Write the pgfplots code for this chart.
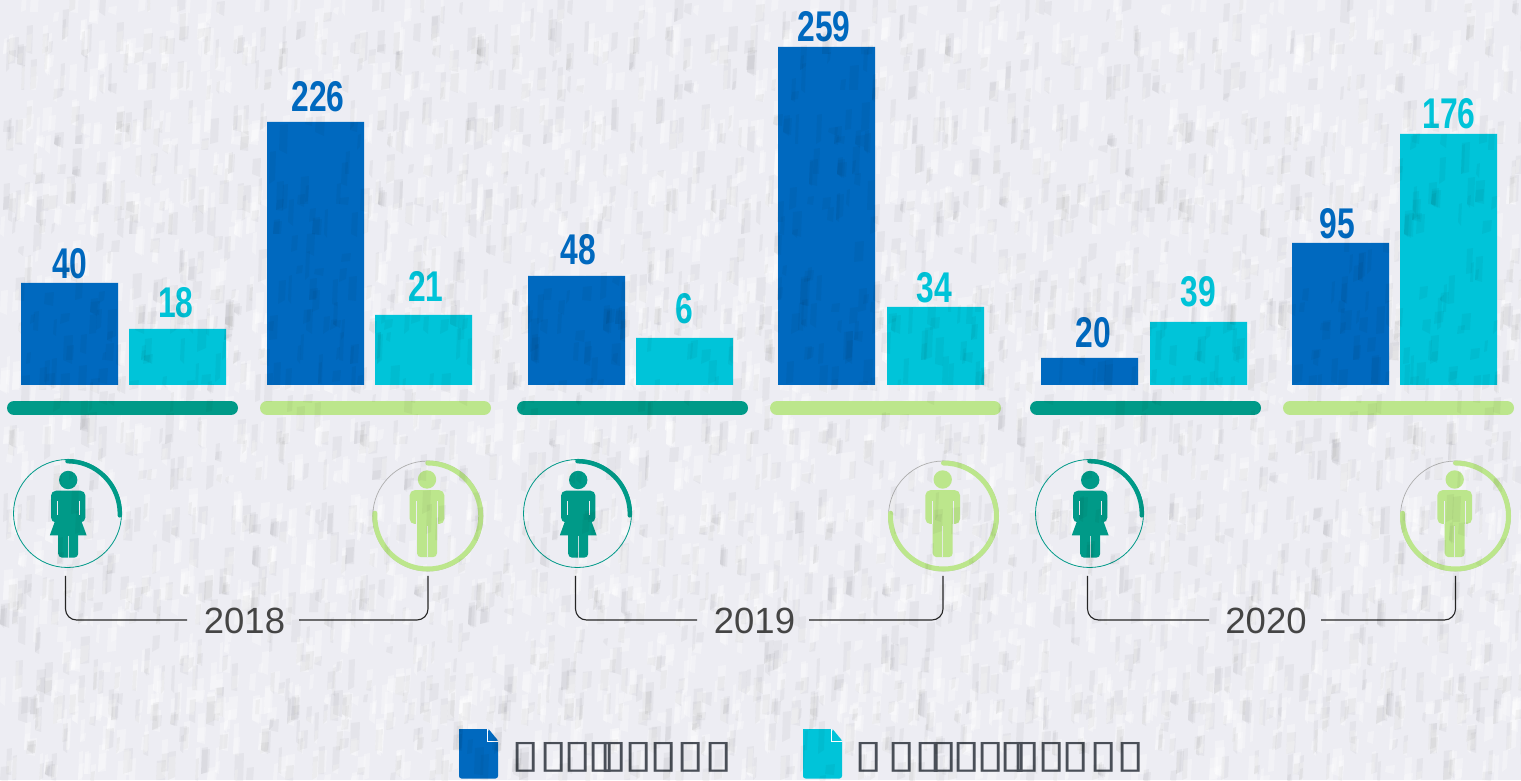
\documentclass[border=0pt]{standalone}
\usepackage{pgfplots}
\pgfplotsset{compat=1.18}
\usepackage{pgfplotstable}
\usepackage{fontspec}
\setmainfont{Liberation Sans}
\newfontfamily\numfont[FakeStretch=0.74]{Liberation Sans Bold}
\newfontfamily\tofufont[FakeStretch=1.32]{DejaVu Sans}
\definecolor{paper}{HTML}{EDEDF3}
\definecolor{blueb}{HTML}{0069BF}
\definecolor{cyanb}{HTML}{00C4D9}
\definecolor{teal2}{HTML}{009A88}
\definecolor{lgreen}{HTML}{BCE68C}
\definecolor{ink}{HTML}{454545}
\definecolor{tofu}{HTML}{4A4F58}

% bar heights as drawn in the picture (the picture's bars are not to scale) and their labels
\pgfplotstableread{
x      h
69.5   102
315.5  263
576.5  109
826.5  338
1089.5 27
1340.5 142
}\bluebars
\pgfplotstableread{
x      h
177.5  56
423.5  70
684.5  47
935.5  78
1198.5 63
1448.5 251
}\cyanbars
\pgfplotstableread{
x     y   label
70    121 40
318   288 226
578   135 48
824   358 259
1093  52  20
1337  161 95
}\bluelabels
\pgfplotstableread{
x     y   label
176   82  18
426   99  21
684   76  6
934   97  34
1198  93  39
1449  271 176
}\cyanlabels

\newcommand\woman[2]{%
 \begin{scope}[x=1pt,y=1pt,shift={(#1pt,{(780-#2)*1pt})}]
  \draw[teal2,line width=.8pt] (0,0) circle[radius=54];
  \draw[teal2,line width=4.5pt,line cap=round] (0,52.3) arc[start angle=90,end angle=-2,radius=52.3];
  \begin{scope}[xshift=.7pt]
   \fill[teal2] (0,33.5) circle[radius=9.2];
   \fill[teal2,rounded corners=5pt] (-17.2,22.8) rectangle (17.2,-9);
   \fill[teal2] (-11.5,-3) -- (11.5,-3) -- (18.4,-21.8) -- (-18.4,-21.8) -- cycle;
   \fill[teal2,rounded corners=4pt] (-10,-15) rectangle (10,-44.2);
   \draw[paper,line width=.8pt] (-10.9,12.5) -- (-10.9,-2);
   \draw[paper,line width=.8pt] (10.9,12.5) -- (10.9,-2);
   \draw[paper,line width=.7pt,opacity=.8] (0,-22) -- (0,-44.2);
  \end{scope}
 \end{scope}}

\newcommand\man[2]{%
 \begin{scope}[x=1pt,y=1pt,shift={(#1pt,{(780-#2)*1pt})}]
  \draw[black!32,line width=.7pt] (0,0) circle[radius=55];
  \draw[lgreen,line width=5pt,line cap=round] (0,53) arc[start angle=90,end angle=-183,radius=53];
  \begin{scope}[xshift=-.8pt]
   \fill[lgreen] (0,36.5) circle[radius=9.2];
   \fill[lgreen,rounded corners=5pt] (-17.3,25.8) rectangle (17.3,-8);
   \fill[lgreen,rounded corners=4pt] (-10,0) rectangle (10,-41.2);
   \draw[paper,line width=.8pt] (-10.5,15) -- (-10.5,-8.5);
   \draw[paper,line width=.8pt] (10.5,15) -- (10.5,-8.5);
   \draw[paper,line width=.7pt,opacity=.8] (0,-10) -- (0,-41.2);
  \end{scope}
 \end{scope}}

\newcommand\docicon[2]{% left px, colour
 \begin{scope}[x=1pt,y=1pt,shift={(#1pt,0pt)}]
  \fill[#2,rounded corners=2.5pt] (0,51) -- (0,1.5) -- (39,1.5) [sharp corners] -- (39,38) -- (28,51) -- cycle;
  \fill[#2] (29.5,51) -- (39,39.5) -- (29.5,39.5) -- cycle;
  \draw[white,line width=.8pt] (28.6,51) -- (28.6,38.8) -- (39,38.8);
 \end{scope}}

\newcommand\B[1]{\makebox[0pt][l]{▯}\kern#1pt\relax}

% grain helpers (decoration only): deterministic scatter
\newcommand\grainvars[1]{%
  \edef\px{\the\numexpr 13*#1*#1+617*#1 - 1521*((13*#1*#1+617*#1-760)/1521)\relax}%
  \edef\py{\the\numexpr 7*#1*#1+311*#1 - 780*((7*#1*#1+311*#1-390)/780)\relax}%
  \edef\sl{\the\numexpr #1*37 - 9*((#1*37-4)/9) - 4\relax}%
  \edef\wd{\the\numexpr 3 + #1*29 - 7*((#1*29-3)/7)\relax}%
  \edef\ht{\the\numexpr 8 + #1*53 - 23*((#1*53-11)/23)\relax}%
}

\begin{document}
\begin{tikzpicture}[x=1pt,y=1pt]
\useasboundingbox (0,0) rectangle (1521,780);
\fill[paper] (0,0) rectangle (1521,780);
% paper grain, light part
\begin{scope}
\clip (0,0) rectangle (1521,780);
\foreach \i in {1,...,4200}{%
  \grainvars{\i}%
  \fill[white,opacity=.3] (\px,\py) -- ++(\wd,\sl) -- ++(1,\ht) -- ++(-\wd,-1) -- cycle;
}
\end{scope}

\begin{axis}[
  at={(0pt,0pt)},anchor=south west,
  width=1521pt,height=780pt,scale only axis,
  xmin=0,xmax=1521,ymin=-395,ymax=385,
  hide axis,clip=false,
  nodes near coords align=center,
]
\addplot[ybar,bar width=97pt,bar shift=0pt,fill=blueb,draw=none] table[x=x,y=h] {\bluebars};
\addplot[ybar,bar width=97pt,bar shift=0pt,fill=cyanb,draw=none] table[x=x,y=h] {\cyanbars};
\addplot[draw=none,point meta=explicit symbolic,nodes near coords,
  every node near coord/.append style={anchor=center,inner sep=0pt,text=blueb,font=\fontsize{43}{43}\selectfont\numfont}]
  table[x=x,y=y,meta=label] {\bluelabels};
\addplot[draw=none,point meta=explicit symbolic,nodes near coords,
  every node near coord/.append style={anchor=center,inner sep=0pt,text=cyanb,font=\fontsize{43}{43}\selectfont\numfont}]
  table[x=x,y=y,meta=label] {\cyanlabels};
% coloured rules under the bars
\addplot[teal2,line width=14pt,line cap=round] coordinates {(14,-23) (231,-23)};
\addplot[lgreen,line width=14pt,line cap=round] coordinates {(267,-23) (484,-23)};
\addplot[teal2,line width=14pt,line cap=round] coordinates {(524,-23) (741,-23)};
\addplot[lgreen,line width=14pt,line cap=round] coordinates {(777,-23) (994,-23)};
\addplot[teal2,line width=14pt,line cap=round] coordinates {(1037,-23) (1254,-23)};
\addplot[lgreen,line width=14pt,line cap=round] coordinates {(1290,-23) (1507,-23)};
% year connectors
\addplot[black!85,line width=1.1pt,rounded corners=11pt] coordinates {(65.5,-191) (65.5,-235) (187,-235)};
\addplot[black!85,line width=1.1pt,rounded corners=11pt] coordinates {(299,-235) (428,-235) (428,-191)};
\addplot[black!85,line width=1.1pt,rounded corners=11pt] coordinates {(575.5,-191) (575.5,-235) (697,-235)};
\addplot[black!85,line width=1.1pt,rounded corners=11pt] coordinates {(809,-235) (943,-235) (943,-191)};
\addplot[black!85,line width=1.1pt,rounded corners=11pt] coordinates {(1087.5,-191) (1087.5,-235) (1209,-235)};
\addplot[black!85,line width=1.1pt,rounded corners=11pt] coordinates {(1321,-235) (1455.5,-235) (1455.5,-191)};
\end{axis}

\woman{67.5}{513.5}\man{427.8}{516}
\woman{577.5}{513.5}\man{943.5}{516}
\woman{1089.5}{513.5}\man{1455.5}{516}

\node[text=ink,inner sep=0pt,font=\fontsize{36.5}{36.5}\selectfont] at (244.5,159.5) {2018};
\node[text=ink,inner sep=0pt,font=\fontsize{36.5}{36.5}\selectfont] at (754.5,159.5) {2019};
\node[text=ink,inner sep=0pt,font=\fontsize{36.5}{36.5}\selectfont] at (1266,159.5) {2020};

\docicon{459}{blueb}
\docicon{803}{cyanb}
\node[anchor=base west,inner sep=0pt,text=tofu,font=\fontsize{39}{39}\selectfont\tofufont] at (511,13)
 {\B{28}\B{24}\B{24}\B{12}\B{25}\B{25}\B{27}\B{28}\B{0}};
\node[anchor=base west,inner sep=0pt,text=tofu,font=\fontsize{39}{39}\selectfont\tofufont] at (854,13)
 {\B{33}\B{27}\B{15}\B{23}\B{24}\B{23}\B{13}\B{25}\B{24}\B{28}\B{27}\B{0}};

% paper grain, dark part, laid over everything as in the reference
\begin{scope}[blend mode=multiply]
\clip (0,0) rectangle (1521,780);
\foreach \i in {4201,...,7000}{%
  \grainvars{\i}%
  \fill[black!30,opacity=.12] (\px,\py) -- ++(\wd,\sl) -- ++(1,\ht) -- ++(-\wd,-1) -- cycle;
}
\end{scope}
\end{tikzpicture}
\end{document}
